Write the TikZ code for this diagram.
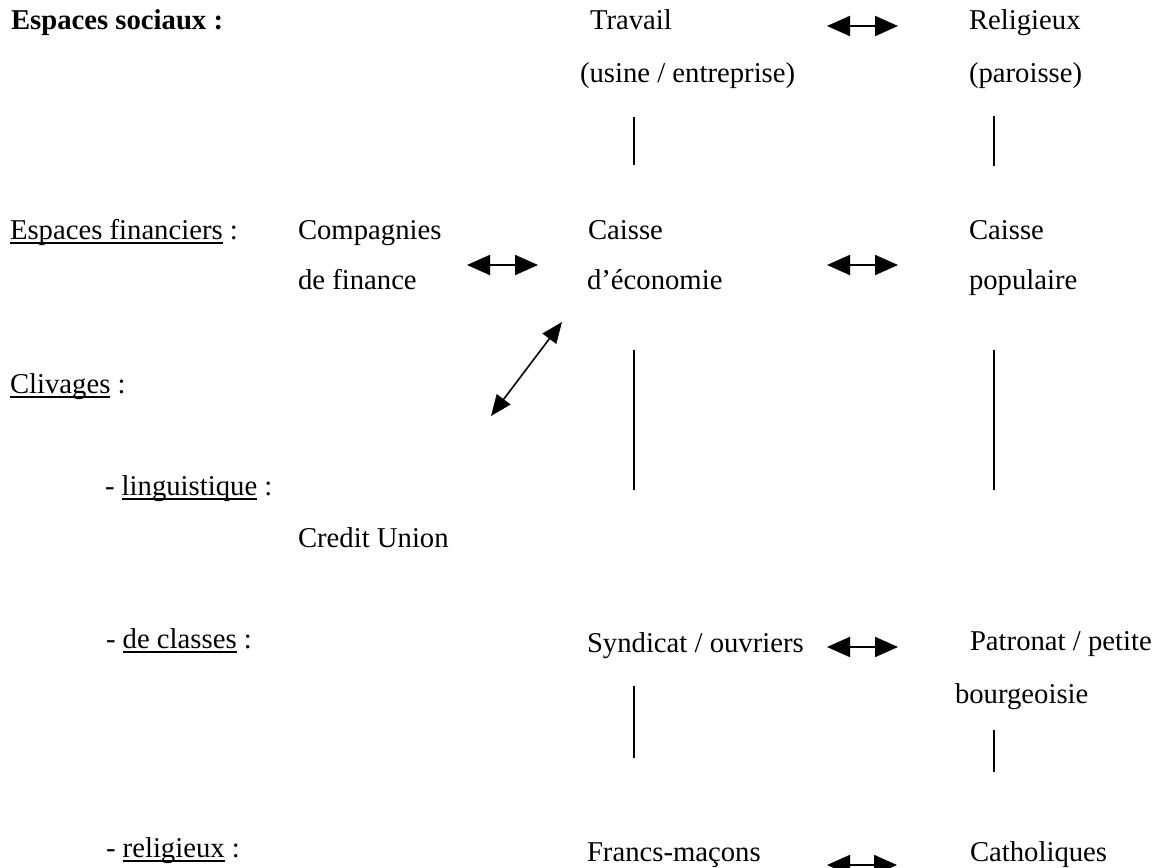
\documentclass[tikz,border=0pt]{standalone}
\usepackage{fontspec}
\setmainfont{Liberation Serif}
\usetikzlibrary{arrows.meta}
\newcommand\ulx[1]{\setbox0\hbox{#1}\rlap{\rule[-4.6pt]{\wd0}{1.5pt}}\box0\relax}
\begin{document}
\begin{tikzpicture}[x=1pt,y=-1pt,
  txt/.style={anchor=base west,inner sep=0pt,outer sep=0pt,font=\fontsize{28.7}{34}\selectfont},
  dbl/.style={{Triangle[length=23pt,width=20pt]}-{Triangle[length=23pt,width=20pt]},line width=2pt},
  dblthin/.style={{Triangle[length=21pt,width=17pt]}-{Triangle[length=21pt,width=17pt]},line width=1.6pt},
  vline/.style={line width=1.8pt}]
\useasboundingbox (0,0) rectangle (1161,867);
\clip (0,0) rectangle (1161,867);
% left labels
\node[txt] (es) at (11,30) {\textbf{Espaces sociaux :}};
\node[txt] (ef) at (10,239) {\ulx{Espaces financiers} :};
\node[txt] (cl) at (10,393) {\ulx{Clivages} :};
\node[txt] (li) at (105,495) {- \ulx{linguistique} :};
\node[txt] (dc) at (106,648) {- \ulx{de classes} :};
\node[txt] (re) at (106,857) {- \ulx{religieux} :};
% middle column
\node[txt] (tr) at (590,30) {Travail};
\node[txt] (us) at (580,82) {(usine / entreprise)};
\node[txt] (ca1) at (588,239) {Caisse};
\node[txt] (de) at (587,289) {d’économie};
\node[txt] (sy) at (587,652) {Syndicat / ouvriers};
\node[txt] (fm) at (587,861) {Francs-maçons};
% right column
\node[txt] (rl) at (969,30) {Religieux};
\node[txt] (pa) at (969,82) {(paroisse)};
\node[txt] (ca2) at (969,239) {Caisse};
\node[txt] (po) at (969,289) {populaire};
\node[txt] (pt) at (970,650) {Patronat / petite};
\node[txt] (bo) at (955,703) {bourgeoisie};
\node[txt] (ct) at (970,861) {Catholiques};
% finance companies
\node[txt] (cp) at (298,239) {Compagnies};
\node[txt] (df) at (298,289) {de finance};
\node[txt] (cu) at (298,547) {Credit Union};
% connector end points
\coordinate (a1l) at (827,26);  \coordinate (a1r) at (898,26);
\coordinate (a2l) at (467,265); \coordinate (a2r) at (538,265);
\coordinate (a3l) at (827,265); \coordinate (a3r) at (898,265);
\coordinate (a4l) at (827,647); \coordinate (a4r) at (898,647);
\coordinate (a5l) at (827,865); \coordinate (a5r) at (897,865);
\coordinate (dg1) at (491,416); \coordinate (dg2) at (562,322);
\coordinate (v1t) at (634,117); \coordinate (v1b) at (634,165);
\coordinate (v2t) at (994,116); \coordinate (v2b) at (994,166);
\coordinate (v3t) at (634,350); \coordinate (v3b) at (634,490);
\coordinate (v4t) at (994,350); \coordinate (v4b) at (994,490);
\coordinate (v5t) at (634,686); \coordinate (v5b) at (634,758);
\coordinate (v6t) at (994,730); \coordinate (v6b) at (994,772);
% arrows
\draw[dbl] (a1l) -- (a1r);
\draw[dbl] (a2l) -- (a2r);
\draw[dbl] (a3l) -- (a3r);
\draw[dbl] (a4l) -- (a4r);
\draw[dbl] (a5l) -- (a5r);
\draw[dblthin] (dg1) -- (dg2);
% vertical lines
\draw[vline] (v1t) -- (v1b);
\draw[vline] (v2t) -- (v2b);
\draw[vline] (v3t) -- (v3b);
\draw[vline] (v4t) -- (v4b);
\draw[vline] (v5t) -- (v5b);
\draw[vline] (v6t) -- (v6b);
\end{tikzpicture}
\end{document}
